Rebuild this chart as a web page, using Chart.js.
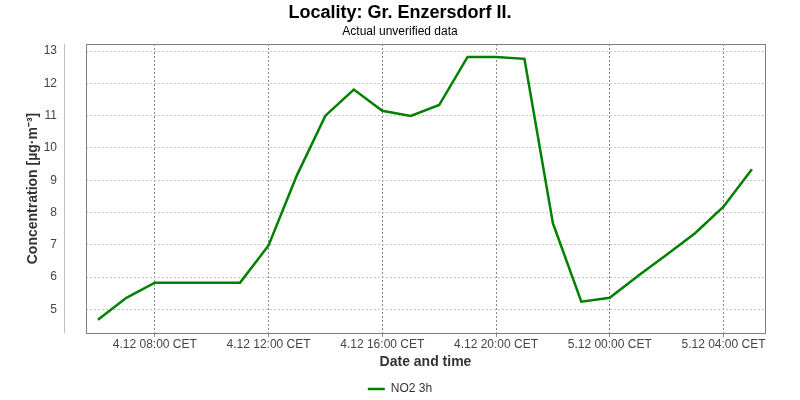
<!DOCTYPE html>
<html lang="en">
<head>
<meta charset="UTF-8">
<title>Locality: Gr. Enzersdorf II.</title>
<script src="https://cdn.jsdelivr.net/npm/chart.js"></script>
<style>
  html, body { margin: 0; padding: 0; background: #fff; }
</style>
</head>
<body>
<canvas id="no2Chart" width="800" height="400"></canvas>
<script>
// hours counted from 4.12 00:00 CET
var hours = [6, 7, 8, 9, 10, 11, 12, 13, 14, 15, 16, 17, 18, 19, 20, 21, 22, 23, 24, 25, 26, 27, 28, 29];
var no2 = [4.68, 5.36, 5.83, 5.83, 5.83, 5.83, 6.98, 9.16, 11.0, 11.81, 11.15, 10.99,
           11.33, 12.82, 12.82, 12.76, 7.67, 5.24, 5.36, 6.04, 6.69, 7.36, 8.18, 9.34];

var tickHours = [8, 12, 16, 20, 24, 28];
var tickLabels = ['4.12 08:00 CET', '4.12 12:00 CET', '4.12 16:00 CET',
                  '4.12 20:00 CET', '5.12 00:00 CET', '5.12 04:00 CET'];
var yTicks = [5, 6, 7, 8, 9, 10, 11, 12, 13];

var FONT = 'Liberation Sans, Arial, sans-serif';

// plot frame + the detached y axis line
var framePlugin = {
    id: 'frame',
    beforeDatasetsDraw: function(chart) {
        var ctx = chart.ctx, a = chart.chartArea;
        ctx.save();
        ctx.strokeStyle = '#808080';
        ctx.lineWidth = 1;
        ctx.strokeRect(a.left + 0.5, a.top + 0.5, a.right - a.left, a.bottom - a.top);
        var ax = Math.round(a.left - 22) + 0.5;
        ctx.strokeStyle = '#c0c0c0';
        ctx.beginPath();
        ctx.moveTo(ax, a.top);
        ctx.lineTo(ax, a.bottom);
        ctx.stroke();
        ctx.restore();
    }
};

var points = hours.map(function(h, i) { return {x: h, y: no2[i]}; });

new Chart(document.getElementById('no2Chart'), {
    type: 'line',
    data: {
        datasets: [{
            label: 'NO2 3h',
            data: points,
            borderColor: '#008000',
            backgroundColor: '#008000',
            borderWidth: 2.5,
            pointRadius: 0,
            tension: 0,
            fill: false
        }]
    },
    options: {
        responsive: false,
        animation: false,
        layout: { padding: { left: 0, right: 0, top: 0, bottom: -5 } },
        scales: {
            x: {
                type: 'linear',
                min: 5.58,
                max: 29.46,
                afterBuildTicks: function(scale) {
                    scale.ticks = tickHours.map(function(v) { return {value: v}; });
                },
                afterFit: function(scale) { scale.height = 50; },
                ticks: {
                    autoSkip: false,
                    maxRotation: 0,
                    padding: 0,
                    color: '#444',
                    font: { family: FONT, size: 12 },
                    callback: function(v) { return tickLabels[tickHours.indexOf(v)]; }
                },
                grid: { color: '#888', tickLength: 4, tickColor: '#888' },
                border: { display: false, dash: [2, 2] },
                title: {
                    display: true,
                    text: 'Date and time',
                    color: '#333',
                    font: { family: FONT, size: 14, weight: 'bold' },
                    padding: { top: 0, bottom: 12 }
                }
            },
            y: {
                type: 'linear',
                min: 4.27,
                max: 13.22,
                afterBuildTicks: function(scale) {
                    scale.ticks = yTicks.map(function(v) { return {value: v}; });
                },
                afterFit: function(scale) { scale.width = 86; },
                ticks: {
                    padding: 29,
                    color: '#444',
                    font: { family: FONT, size: 12 }
                },
                grid: { color: '#c4c4c4', drawTicks: false },
                border: { display: false, dash: [2, 2] },
                title: {
                    display: true,
                    text: 'Concentration [µg·m⁻³]',
                    color: '#333',
                    font: { family: FONT, size: 14, weight: 'bold' },
                    padding: { top: 25, bottom: 0 }
                }
            },
            // empty right gutter so the title and legend stay centred on the page
            yRight: {
                position: 'right',
                afterFit: function(scale) { scale.width = 35; },
                ticks: { display: false },
                grid: { display: false, drawTicks: false },
                border: { display: false }
            }
        },
        plugins: {
            title: {
                display: true,
                text: 'Locality: Gr. Enzersdorf II.',
                color: '#000',
                font: { family: FONT, size: 18, weight: 'bold' },
                padding: { top: 2, bottom: 0 }
            },
            subtitle: {
                display: true,
                text: 'Actual unverified data',
                color: '#000',
                font: { family: FONT, size: 12 },
                padding: { top: 1, bottom: 5 }
            },
            legend: {
                position: 'bottom',
                labels: {
                    color: '#333',
                    font: { family: FONT, size: 12 },
                    usePointStyle: true,
                    pointStyle: 'line',
                    pointStyleWidth: 17,
                    padding: 0
                }
            },
            tooltip: { enabled: false }
        }
    },
    plugins: [framePlugin]
});
</script>
</body>
</html>
